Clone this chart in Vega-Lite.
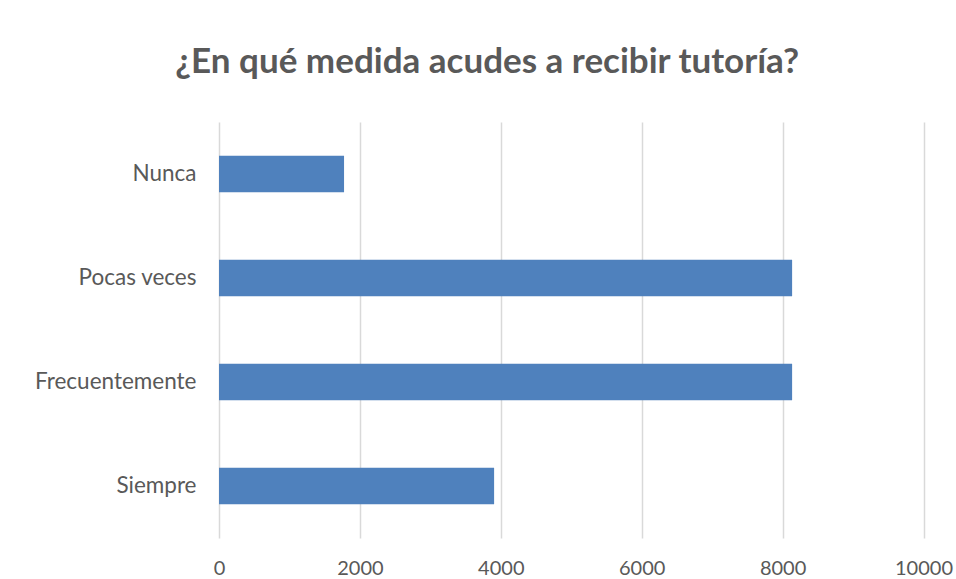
{
  "$schema": "https://vega.github.io/schema/vega-lite/v6.json",
  "autosize": {"type": "none"},
  "width": 704.5,
  "height": 416,
  "padding": {"left": 219, "top": 122, "right": 32, "bottom": 41},
  "background": "white",
  "title": {
    "text": "¿En qué medida acudes a recibir tutoría?",
    "font": "Lato",
    "fontSize": 35,
    "fontWeight": "bold",
    "color": "#595959",
    "anchor": "middle",
    "dx": -84,
    "offset": 42
  },
  "data": {
    "values": [
      {"respuesta": "Nunca", "cantidad": 1775},
      {"respuesta": "Pocas veces", "cantidad": 8135},
      {"respuesta": "Frecuentemente", "cantidad": 8135},
      {"respuesta": "Siempre", "cantidad": 3905}
    ]
  },
  "mark": {"type": "bar", "color": "#4f81bd"},
  "encoding": {
    "y": {
      "field": "respuesta",
      "type": "nominal",
      "sort": ["Nunca", "Pocas veces", "Frecuentemente", "Siempre"],
      "scale": {"paddingInner": 0.647, "paddingOuter": 0.3235},
      "axis": {
        "title": null,
        "domain": false,
        "ticks": false,
        "labelFont": "Lato",
        "labelFontSize": 22.5,
        "labelColor": "#595959",
        "labelPadding": 23
      }
    },
    "x": {
      "field": "cantidad",
      "type": "quantitative",
      "scale": {"domain": [0, 10000], "nice": false},
      "axis": {
        "title": null,
        "values": [0, 2000, 4000, 6000, 8000, 10000],
        "format": "d",
        "domain": false,
        "ticks": false,
        "grid": true,
        "gridColor": "#d9d9d9",
        "gridWidth": 1.5,
        "labelFont": "Lato",
        "labelFontSize": 20,
        "labelColor": "#595959",
        "labelPadding": 20,
        "labelFlush": false
      }
    }
  },
  "config": {"view": {"stroke": null}}
}
